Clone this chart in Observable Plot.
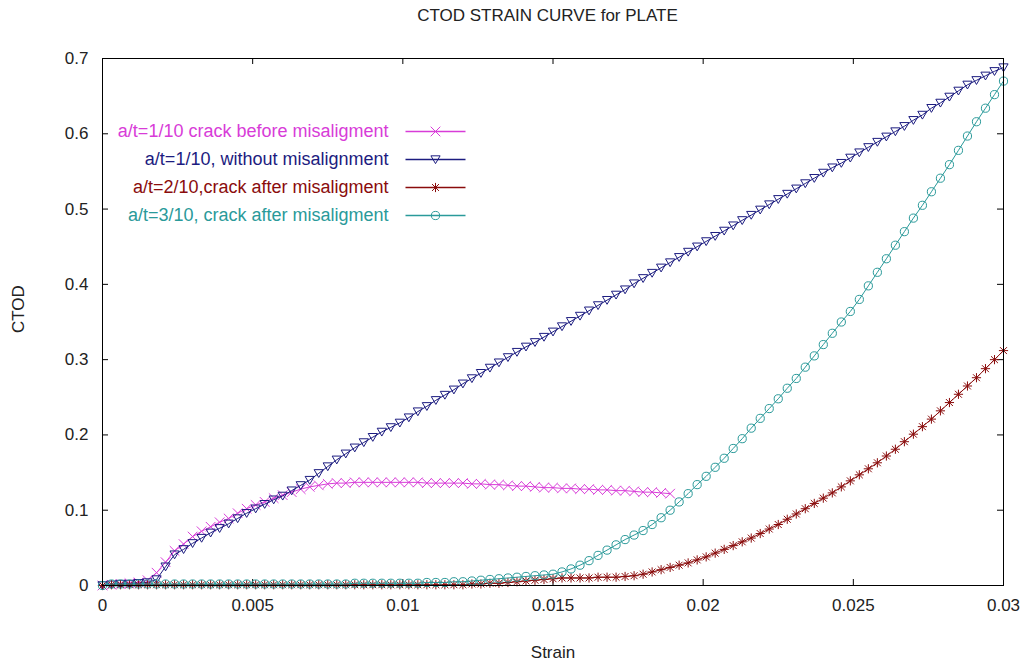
<!DOCTYPE html>
<html><head><meta charset="utf-8">
<script src="https://cdn.jsdelivr.net/npm/d3@7"></script>
<script src="https://cdn.jsdelivr.net/npm/@observablehq/plot@0.6"></script>
<style>
html,body{margin:0;padding:0;background:#fff;}
body{font-family:"Liberation Sans",Arial,sans-serif;width:1024px;height:666px;overflow:hidden;}
#title{box-sizing:border-box;width:1024px;height:30px;line-height:32px;padding-left:71px;text-align:center;font-size:17px;color:#222;}
</style></head><body>
<div id="title">CTOD STRAIN CURVE for PLATE</div>
<div id="chart"></div>
<script>
// ---- data ----
const strain = [
  0,0.0003,0.0006,0.0009,0.0012,0.0015,0.0018,0.0021,0.0024,0.0027,
  0.003,0.0033,0.0036,0.0039,0.0042,0.0045,0.0048,0.0051,0.0054,0.0057,
  0.006,0.0063,0.0066,0.0069,0.0072,0.0075,0.0078,0.0081,0.0084,0.0087,
  0.009,0.0093,0.0096,0.0099,0.0102,0.0105,0.0108,0.0111,0.0114,0.0117,
  0.012,0.0123,0.0126,0.0129,0.0132,0.0135,0.0138,0.0141,0.0144,0.0147,
  0.015,0.0153,0.0156,0.0159,0.0162,0.0165,0.0168,0.0171,0.0174,0.0177,
  0.018,0.0183,0.0186,0.0189,0.0192,0.0195,0.0198,0.0201,0.0204,0.0207,
  0.021,0.0213,0.0216,0.0219,0.0222,0.0225,0.0228,0.0231,0.0234,0.0237,
  0.024,0.0243,0.0246,0.0249,0.0252,0.0255,0.0258,0.0261,0.0264,0.0267,
  0.027,0.0273,0.0276,0.0279,0.0282,0.0285,0.0288,0.0291,0.0294,0.0297,
  0.03
];
// a/t=1/10 crack before misaligment (ends near 0.0189)
const ctodBefore = [
  0,0.001,0.002,0.003,0.004,0.007,0.017,0.031,0.046,0.055,
  0.065,0.072,0.078,0.084,0.089,0.096,0.102,0.107,0.111,0.116,
  0.120,0.124,0.128,0.131,0.133,0.135,0.136,0.136,0.137,0.137,
  0.137,0.137,0.137,0.137,0.137,0.137,0.136,0.136,0.136,0.136,
  0.136,0.135,0.135,0.134,0.134,0.133,0.132,0.132,0.131,0.130,
  0.130,0.129,0.129,0.128,0.128,0.127,0.127,0.126,0.126,0.125,
  0.124,0.124,0.123,0.122
];
// a/t=1/10, without misalignment
const ctodWithout = [
  0,0.001,0.002,0.002,0.003,0.004,0.008,0.025,0.041,0.048,
  0.056,0.063,0.070,0.076,0.082,0.089,0.096,0.102,0.108,0.114,
  0.119,0.126,0.133,0.140,0.149,0.158,0.167,0.175,0.183,0.190,
  0.197,0.204,0.210,0.216,0.223,0.231,0.238,0.246,0.253,0.260,
  0.268,0.275,0.282,0.289,0.296,0.303,0.310,0.317,0.323,0.330,
  0.337,0.344,0.351,0.358,0.365,0.372,0.379,0.386,0.393,0.401,
  0.408,0.415,0.422,0.429,0.436,0.443,0.450,0.457,0.464,0.471,
  0.478,0.485,0.492,0.499,0.506,0.513,0.520,0.527,0.534,0.541,
  0.548,0.555,0.561,0.568,0.575,0.582,0.589,0.596,0.603,0.610,
  0.618,0.625,0.634,0.641,0.649,0.657,0.665,0.671,0.677,0.683,
  0.688
];
// a/t=2/10, crack after misaligment
const ctodAfter2 = [
  0,0.001,0.001,0.001,0.001,0.001,0.001,0.001,0.001,0.001,
  0.001,0.001,0.001,0.001,0.001,0.001,0.001,0.001,0.001,0.001,
  0.001,0.001,0.001,0.001,0.001,0.001,0.001,0.001,0.001,0.001,
  0.001,0.001,0.001,0.001,0.001,0.001,0.001,0.001,0.001,0.001,
  0.001,0.002,0.002,0.003,0.003,0.004,0.005,0.006,0.007,0.008,
  0.009,0.010,0.010,0.010,0.010,0.011,0.011,0.011,0.012,0.013,
  0.015,0.018,0.021,0.024,0.027,0.030,0.034,0.038,0.043,0.048,
  0.053,0.058,0.063,0.069,0.075,0.081,0.088,0.095,0.102,0.109,
  0.116,0.123,0.131,0.139,0.147,0.155,0.163,0.172,0.181,0.191,
  0.201,0.211,0.221,0.232,0.243,0.254,0.265,0.276,0.288,0.300,
  0.312
];
// a/t=3/10, crack after misaligment
const ctodAfter3 = [
  0,0.002,0.002,0.002,0.002,0.002,0.002,0.002,0.002,0.002,
  0.002,0.002,0.002,0.002,0.002,0.002,0.002,0.002,0.002,0.002,
  0.002,0.002,0.002,0.002,0.002,0.002,0.002,0.002,0.003,0.003,
  0.003,0.003,0.003,0.003,0.003,0.003,0.004,0.004,0.004,0.005,
  0.005,0.006,0.007,0.008,0.009,0.010,0.011,0.012,0.013,0.014,
  0.015,0.018,0.022,0.027,0.033,0.040,0.047,0.054,0.061,0.067,
  0.073,0.081,0.090,0.100,0.111,0.122,0.134,0.145,0.157,0.169,
  0.182,0.195,0.209,0.222,0.235,0.248,0.262,0.275,0.290,0.305,
  0.320,0.335,0.350,0.364,0.380,0.398,0.416,0.434,0.452,0.470,
  0.488,0.505,0.523,0.541,0.559,0.578,0.597,0.616,0.634,0.652,
  0.670
];
const seriesNames = [
  "a/t=1/10 crack before misaligment",
  "a/t=1/10, without misalignment",
  "a/t=2/10,crack after misaligment",
  "a/t=3/10, crack after misaligment"
];
const seriesValues = [ctodBefore, ctodWithout, ctodAfter2, ctodAfter3];
const seriesColors = ["#d83cd8", "#1c1c80", "#8a0c0c", "#2a9a9a"];
const xTicks = [0, 0.005, 0.01, 0.015, 0.02, 0.025, 0.03];
const yTicks = [0, 0.1, 0.2, 0.3, 0.4, 0.5, 0.6, 0.7];
const xLabel = "Strain";
const yLabel = "CTOD";

// ---- marker shapes ----
const half = (size) => Math.sqrt(size / Math.PI);
const symX = {draw(c, size){const s = half(size); c.moveTo(-s,-s); c.lineTo(s,s); c.moveTo(-s,s); c.lineTo(s,-s);}};
const symTriDown = {draw(c, size){const s = half(size); c.moveTo(-s,-s*0.8); c.lineTo(s,-s*0.8); c.lineTo(0,s*0.9); c.closePath();}};
const symStar = {draw(c, size){const s = half(size), k = s*0.75; c.moveTo(-s,0); c.lineTo(s,0); c.moveTo(0,-s); c.lineTo(0,s); c.moveTo(-k,-k); c.lineTo(k,k); c.moveTo(-k,k); c.lineTo(k,-k);}};
const symCircle = {draw(c, size){const s = half(size); c.moveTo(s,0); c.arc(0,0,s,0,2*Math.PI); c.closePath();}};
const symbols = [symX, symTriDown, symStar, symCircle];
const radii = [4.8, 4.6, 4.6, 4.1];
const swatchHalf = 30;
const symSwatchLine = {draw(c){c.moveTo(-swatchHalf,0); c.lineTo(swatchHalf,0);}};

// ---- layout ----
const W = 1024, H = 636, mT = 28, mB = 81, mL = 102, mR = 21;
const plotW = W - mL - mR, plotH = H - mT - mB;
const tick = 6;

const rows = seriesValues.map((vals, s) => vals.map((v, i) => ({strain: strain[i], ctod: v, s})));

const marks = [];
rows.forEach((r, s) => {
  marks.push(Plot.line(r, {x: "strain", y: "ctod", stroke: seriesColors[s], strokeWidth: 1}));
  marks.push(Plot.dot(r, {x: "strain", y: "ctod", stroke: seriesColors[s], fill: "none", strokeWidth: 1, symbol: symbols[s], r: radii[s]}));
});
// legend
seriesNames.forEach((name, s) => {
  const dy = 73 + 28 * s;
  marks.push(Plot.text([name], {text: d => d, frameAnchor: "top-left", dx: 286, dy, textAnchor: "end", lineAnchor: "middle", fill: seriesColors[s], fontSize: 18}));
  marks.push(Plot.dot([name], {frameAnchor: "top-left", dx: 333, dy, stroke: seriesColors[s], fill: "none", strokeWidth: 1.3, symbol: symSwatchLine, r: 5}));
  marks.push(Plot.dot([name], {frameAnchor: "top-left", dx: 333, dy, stroke: seriesColors[s], fill: "none", strokeWidth: 1, symbol: symbols[s], r: radii[s]}));
});

const chart = Plot.plot({
  width: W, height: H,
  marginTop: mT, marginBottom: mB, marginLeft: mL, marginRight: mR,
  style: {fontFamily: "'Liberation Sans', Arial, sans-serif", fontSize: "17px", color: "#222", background: "#fff"},
  x: {domain: [0, 0.03], label: null},
  y: {domain: [0, 0.7], label: null},
  marks: [
    // inward ticks on all four sides
    Plot.tickX(xTicks, {x: d => d, stroke: "#000", insetTop: plotH - tick}),
    Plot.tickX(xTicks, {x: d => d, stroke: "#000", insetBottom: plotH - tick}),
    Plot.tickY(yTicks, {y: d => d, stroke: "#000", insetRight: plotW - tick}),
    Plot.tickY(yTicks, {y: d => d, stroke: "#000", insetLeft: plotW - tick}),
    Plot.axisX(xTicks, {anchor: "bottom", tickSize: 0, tickPadding: 13, tickFormat: d3.format("~g"), fontSize: 17, label: null}),
    Plot.axisY(yTicks, {anchor: "left", tickSize: 0, tickPadding: 14, tickFormat: d3.format("~g"), fontSize: 17, label: null}),
    Plot.text([xLabel], {text: d => d, frameAnchor: "bottom", dy: 67, lineAnchor: "middle", fontSize: 17}),
    Plot.text([yLabel], {text: d => d, frameAnchor: "left", dx: -84, dy: 11, rotate: -90, lineAnchor: "middle", fontSize: 17}),
    ...marks,
    Plot.frame({stroke: "#000", strokeWidth: 1})
  ]
});
document.getElementById("chart").appendChild(chart);
</script>
</body></html>
